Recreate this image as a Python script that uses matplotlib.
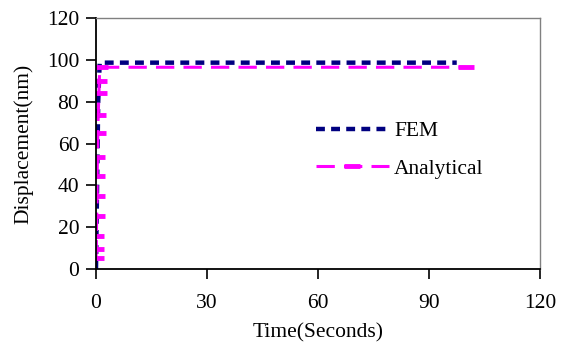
import matplotlib
matplotlib.use("Agg")
import matplotlib.pyplot as plt

plt.rcParams['font.family'] = ['Liberation Serif', 'DejaVu Serif']

# FEM result
fem_t = [0.0, 0.3, 0.6, 1.0, 97.5]
fem_d = [0.0, 40.0, 80.0, 98.7, 98.7]

# analytical solution
ana_t = [0.0, 0.1, 0.1, 0.2, 0.3, 0.3, 0.4, 0.5, 0.6, 0.8, 0.9, 1.0, 100.0]
ana_d = [5.1, 9.6, 15.8, 25.4, 35.0, 44.7, 53.5, 64.9, 73.7, 84.1, 90.1, 96.5, 96.5]

xticks = [0, 30, 60, 90, 120]
yticks = [0, 20, 40, 60, 80, 100, 120]

fig = plt.figure(figsize=(5.69, 3.55), dpi=100)
ax = fig.add_axes([0.1687, 0.242, 0.7803, 0.707])

ax.plot(fem_t, fem_d, color='#000080', lw=3.2, dashes=(2.0, 1.4), label='FEM')
ax.plot(ana_t, ana_d, color='#ff00ff', lw=2.2, dashes=(6, 3),
        marker='_', markersize=11, markeredgewidth=3.5, label='Analytical')

ax.set_xlim(0, 120)
ax.set_ylim(0, 120)
ax.set_xticks(xticks)
ax.set_yticks(yticks)
ax.tick_params(direction='out', length=7, width=1.2, labelsize=15.5, pad=5)
ax.tick_params(axis='x', pad=11)

for s in ['left', 'bottom']:
    ax.spines[s].set_color('black')
    ax.spines[s].set_linewidth(1.3)
for s in ['top', 'right']:
    ax.spines[s].set_color('#808080')
    ax.spines[s].set_linewidth(1.0)

ax.set_xlabel('Time(Seconds)', fontsize=15.5, labelpad=7)
ax.set_ylabel('Displacement(nm)', fontsize=15.5, labelpad=10)

leg = ax.legend(loc='center left', frameon=False,
                fontsize=15.5, handlelength=3.4, handletextpad=0.25, labelspacing=0.8,
                borderaxespad=0)
leg.set_bbox_to_anchor((307 / 569, 1 - 150 / 355), transform=fig.transFigure)

fig.savefig('out.png', dpi=100)
